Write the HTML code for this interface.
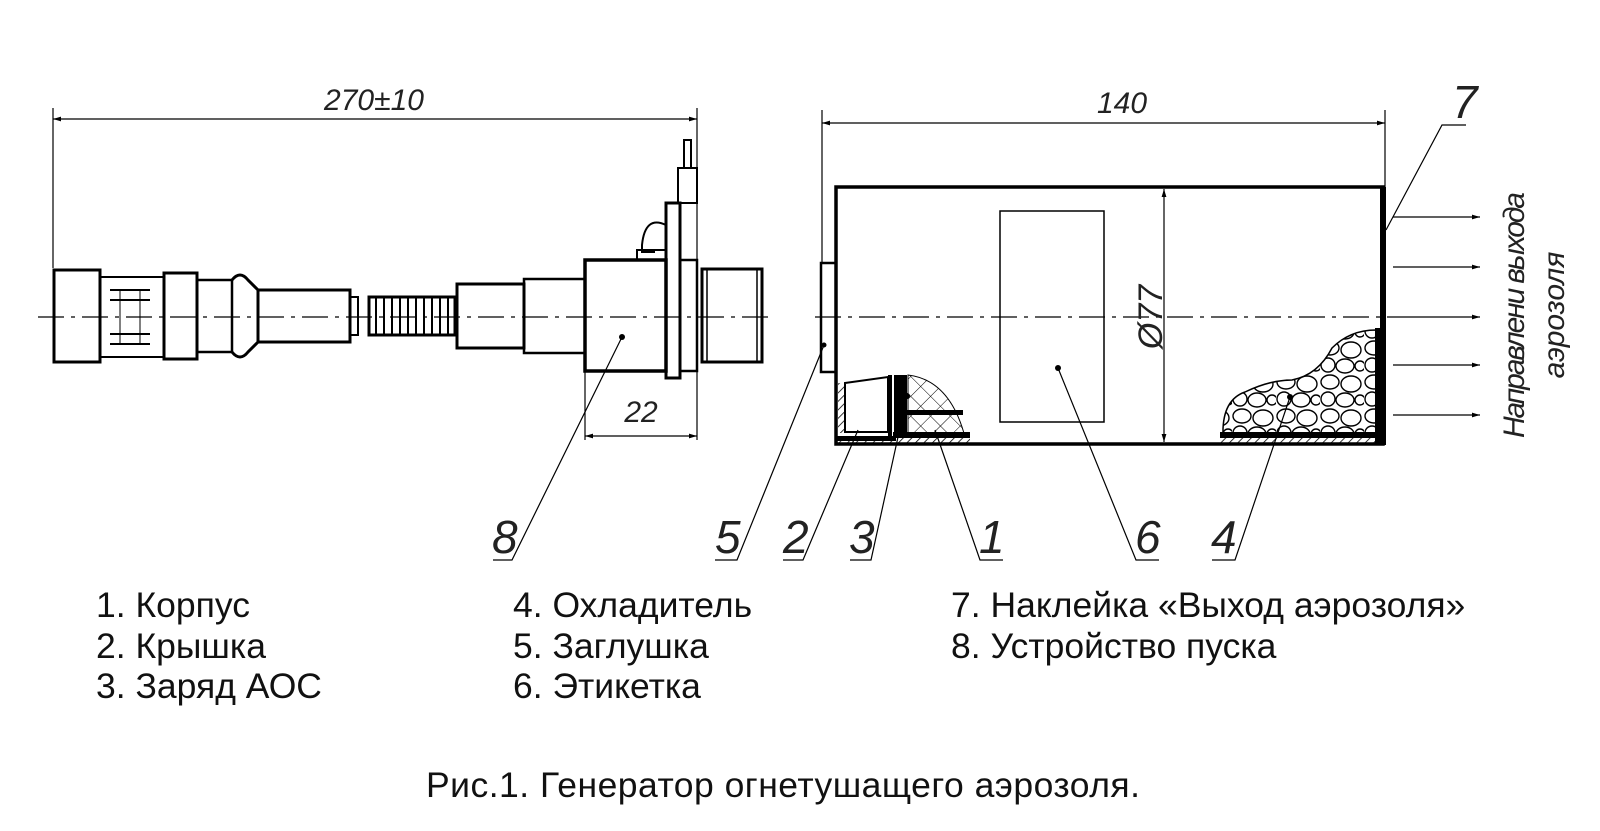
<!DOCTYPE html>
<html><head><meta charset="utf-8"><style>
html,body{margin:0;padding:0;background:#fff}
svg{display:block}
.t{font-family:"Liberation Sans",sans-serif;font-size:35.5px;fill:#111}
.g{font-family:"Liberation Sans",sans-serif;font-style:italic;fill:#222}
</style></head><body>
<svg width="1600" height="831" viewBox="0 0 1600 831" xmlns="http://www.w3.org/2000/svg">
<defs>
<pattern id="h" width="6" height="6" patternUnits="userSpaceOnUse" patternTransform="rotate(45)"><line x1="0" y1="0" x2="0" y2="6" stroke="#000" stroke-width="1.6"/></pattern>
<pattern id="x" width="14" height="14" patternUnits="userSpaceOnUse" patternTransform="rotate(45)"><path d="M0 0V14M0 0H14" stroke="#000" stroke-width="1"/></pattern>
<pattern id="st" width="44" height="34" patternUnits="userSpaceOnUse">
<ellipse cx="10" cy="8" rx="9" ry="7" fill="#fff" stroke="#000" stroke-width="1.4"/>
<ellipse cx="31" cy="10" rx="10" ry="8" fill="#fff" stroke="#000" stroke-width="1.4"/>
<ellipse cx="8" cy="25" rx="7" ry="7" fill="#fff" stroke="#000" stroke-width="1.4"/>
<ellipse cx="25" cy="26" rx="9" ry="7" fill="#fff" stroke="#000" stroke-width="1.4"/>
<ellipse cx="40" cy="26" rx="5" ry="5" fill="#fff" stroke="#000" stroke-width="1.4"/>
</pattern>
<marker id="a" viewBox="0 0 10 10" refX="10" refY="5" markerWidth="20" markerHeight="8" markerUnits="userSpaceOnUse" orient="auto"><path d="M0 2L10 5L0 8z" fill="#000"/></marker>
<marker id="b" viewBox="0 0 10 10" refX="0" refY="5" markerWidth="20" markerHeight="8" markerUnits="userSpaceOnUse" orient="auto"><path d="M10 2L0 5L10 8z" fill="#000"/></marker>
</defs>

<line x1="38" y1="317" x2="768" y2="317" stroke="#000" stroke-width="1.3" stroke-dasharray="26,7,4,7"/>
<line x1="815" y1="317" x2="1390" y2="317" stroke="#000" stroke-width="1.3" stroke-dasharray="26,7,4,7"/>

<g fill="none" stroke="#000" stroke-width="3">
<rect x="54" y="270" width="46" height="92"/>
<rect x="100" y="277" width="64" height="80" stroke-width="2"/>
<path d="M110 290H150M110 300H150M110 334H150M110 344H150" stroke-width="2"/>
<path d="M120 290V344M140 290V344" stroke-width="1"/>
<rect x="164" y="273" width="33" height="86"/>
<rect x="197" y="280" width="35" height="72" stroke-width="2.5"/>
<path d="M232 280Q240 270 248 280L258 290V342L248 352Q240 362 232 352"/>
<rect x="258" y="290" width="92" height="52"/>
<rect x="350" y="297" width="8" height="38" stroke-width="2"/>
<rect x="369" y="297" width="86" height="38"/>
<rect x="457" y="284" width="67" height="64"/>
<rect x="524" y="279" width="61" height="74" stroke-width="2.5"/>
<rect x="585" y="260" width="81" height="111" stroke-width="3.5"/>
<rect x="666" y="203" width="14" height="175"/>
<rect x="680" y="260" width="17" height="111" stroke-width="2.5"/>
<rect x="702" y="269" width="60" height="93" stroke-width="3"/>
<line x1="707" y1="269" x2="707" y2="362" stroke-width="1.5"/>
<line x1="757" y1="269" x2="757" y2="362" stroke-width="1.5"/>
<rect x="678" y="168" width="19" height="35" stroke-width="2"/>
<rect x="684" y="140" width="7" height="28" stroke-width="2"/>
<path d="M666 225Q645 215 642 245V252H655" stroke-width="2"/>
<rect x="637" y="250" width="29" height="10" stroke-width="2"/>
</g>
<g stroke="#000" stroke-width="2">
<path d="M376 297V335M384 297V335M392 297V335M400 297V335M408 297V335M416 297V335M424 297V335M432 297V335M440 297V335M448 297V335"/>
</g>

<g stroke="#000" stroke-width="1.2" fill="none">
<line x1="53" y1="108" x2="53" y2="268"/>
<line x1="697" y1="108" x2="697" y2="440"/>
<line x1="53" y1="119" x2="697" y2="119" marker-start="url(#b)" marker-end="url(#a)"/>
<line x1="585" y1="372" x2="585" y2="440"/>
<line x1="585" y1="436" x2="697" y2="436" marker-start="url(#b)" marker-end="url(#a)"/>
<path d="M622 337L512 560H493"/>
</g>
<circle cx="622" cy="337" r="3"/>
<text class="g" x="374" y="110" font-size="30" text-anchor="middle">270±10</text>
<text class="g" x="641" y="422" font-size="30" text-anchor="middle">22</text>

<g fill="none" stroke="#000">
<line x1="822" y1="110" x2="822" y2="262" stroke-width="1.2"/>
<line x1="1385" y1="110" x2="1385" y2="187" stroke-width="1.2"/>
<line x1="822" y1="123" x2="1385" y2="123" stroke-width="1.2" marker-start="url(#b)" marker-end="url(#a)"/>
<rect x="836" y="187" width="547" height="257" stroke-width="3.5"/>
<line x1="1383" y1="187" x2="1383" y2="445" stroke-width="6"/>
<rect x="821" y="263" width="15" height="109" stroke-width="2.5"/>
<rect x="1000" y="211" width="104" height="211" stroke-width="1.5"/>
<line x1="1164" y1="189" x2="1164" y2="442" stroke-width="1.2" marker-start="url(#b)" marker-end="url(#a)"/>
</g>
<text class="g" x="1122" y="113" font-size="30" text-anchor="middle">140</text>
<text class="g" font-size="34" transform="translate(1162,317) rotate(-90)" text-anchor="middle">Ø77</text>

<rect x="836" y="437" width="134" height="8" fill="url(#h)"/>
<path d="M908 375Q950 380 965 437H908Z" fill="url(#x)" stroke="#000" stroke-width="1"/>
<rect x="838" y="383" width="7" height="50" fill="url(#h)"/>
<g fill="none" stroke="#000">
<path d="M845 383L888 377V432H845Z" stroke-width="2"/>
<rect x="888" y="375" width="4" height="63" fill="#000" stroke="none"/>
<rect x="894" y="375" width="13" height="62" fill="#000" stroke="none"/>
<rect x="907" y="410" width="56" height="5" fill="#000" stroke="none"/>
<rect x="893" y="432" width="77" height="6" fill="#000" stroke="none"/>
<rect x="836" y="436" width="60" height="5" fill="#000" stroke="none"/>
<path d="M836 383V441" stroke-width="3"/>
</g>

<path d="M1223 435Q1222 400 1245 392Q1270 380 1292 380Q1318 375 1332 348Q1350 330 1376 330V433H1223Z" fill="url(#st)" stroke="#000" stroke-width="1.5"/>
<rect x="1375" y="328" width="8" height="117" fill="#000"/>
<rect x="1220" y="432" width="163" height="6" fill="#000"/>
<rect x="1220" y="438" width="160" height="7" fill="url(#h)"/>

<g stroke="#000" stroke-width="1.2">
<line x1="1393" y1="217" x2="1480" y2="217" marker-end="url(#a)"/>
<line x1="1393" y1="267" x2="1480" y2="267" marker-end="url(#a)"/>
<line x1="1390" y1="317" x2="1480" y2="317" marker-end="url(#a)"/>
<line x1="1393" y1="365" x2="1480" y2="365" marker-end="url(#a)"/>
<line x1="1393" y1="415" x2="1480" y2="415" marker-end="url(#a)"/>
</g>
<text class="g" font-size="30" transform="translate(1524,315) rotate(-90)" text-anchor="middle" textLength="246">Направлени выхода</text>
<text class="g" font-size="30" transform="translate(1564,315) rotate(-90)" text-anchor="middle">аэрозоля</text>

<g stroke="#000" stroke-width="1.2" fill="none">
<path d="M1386 230L1442 125H1466"/>
<path d="M824 345L737 560H715"/>
<path d="M858 430L803 560H783"/>
<path d="M907 396L871 560H850"/>
<path d="M935 430L980 560H1003"/>
<path d="M1058 368L1136 560H1159"/>
<path d="M1290 397L1235 560H1212"/>
</g>
<g fill="#000"><circle cx="824" cy="345" r="2.5"/><circle cx="907" cy="396" r="3"/><circle cx="1058" cy="368" r="3"/><circle cx="1290" cy="397" r="3"/></g>

<g class="g" font-size="46">
<text x="1452" y="118">7</text>
<text x="492" y="553">8</text>
<text x="715" y="553">5</text>
<text x="783" y="553">2</text>
<text x="849" y="553">3</text>
<text x="979" y="553">1</text>
<text x="1135" y="553">6</text>
<text x="1211" y="553">4</text>
</g>

<text class="t" x="96" y="617">1. Корпус</text>
<text class="t" x="96" y="658">2. Крышка</text>
<text class="t" x="96" y="698">3. Заряд АОС</text>
<text class="t" x="513" y="617">4. Охладитель</text>
<text class="t" x="513" y="658">5. Заглушка</text>
<text class="t" x="513" y="698">6. Этикетка</text>
<text class="t" x="951" y="617">7. Наклейка «Выход аэрозоля»</text>
<text class="t" x="951" y="658">8. Устройство пуска</text>
<text class="t" x="426" y="797" textLength="714">Рис.1. Генератор огнетушащего аэрозоля.</text>
</svg>
</body></html>
